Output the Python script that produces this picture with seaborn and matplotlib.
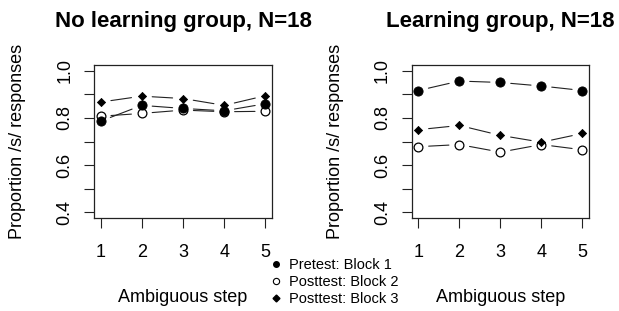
import matplotlib
matplotlib.use("Agg")
import matplotlib.pyplot as plt
from matplotlib.lines import Line2D
import seaborn as sns
import pandas as pd

# ---- data ----
steps = [1, 2, 3, 4, 5]
series_names = ["Pretest: Block 1", "Posttest: Block 2", "Posttest: Block 3"]
titles = ["No learning group, N=18", "Learning group, N=18"]

nolearn_pre = [0.786, 0.853, 0.840, 0.830, 0.860]
nolearn_post2 = [0.807, 0.819, 0.833, 0.826, 0.828]
nolearn_post3 = [0.867, 0.892, 0.882, 0.853, 0.894]

learn_pre = [0.916, 0.956, 0.950, 0.935, 0.916]
learn_post2 = [0.678, 0.687, 0.655, 0.687, 0.665]
learn_post3 = [0.750, 0.768, 0.726, 0.697, 0.734]

yticks = [0.4, 0.5, 0.6, 0.7, 0.8, 0.9, 1.0]
ytick_labels = ["0.4", "", "0.6", "", "0.8", "", "1.0"]
xlabel = "Ambiguous step"
ylabel = "Proportion /s/ responses"

panels = [
    {"Pretest: Block 1": nolearn_pre, "Posttest: Block 2": nolearn_post2, "Posttest: Block 3": nolearn_post3},
    {"Pretest: Block 1": learn_pre, "Posttest: Block 2": learn_post2, "Posttest: Block 3": learn_post3},
]

sns.set_style("ticks")
plt.rcParams["font.family"] = ["Liberation Sans", "DejaVu Sans"]
plt.rcParams["text.color"] = "black"
plt.rcParams["axes.labelcolor"] = "black"
plt.rcParams["xtick.color"] = "black"
plt.rcParams["ytick.color"] = "black"

styles = {
    "Pretest: Block 1": dict(marker="o", s=44, color="black", edgecolor="black", linewidth=0.6),
    "Posttest: Block 2": dict(marker="o", s=40, color="white", edgecolor="black", linewidth=0.9),
    "Posttest: Block 3": dict(marker="D", s=17, color="black", edgecolor="black", linewidth=0.6),
}
draw_order = ["Posttest: Block 2", "Posttest: Block 3", "Pretest: Block 1"]

fig = plt.figure(figsize=(6.19, 3.11), dpi=100)
axes_rects = [
    [94 / 619, 1 - 218 / 311, (272 - 94) / 619, (218 - 65) / 311],
    [411.7 / 619, 1 - 218 / 311, (589 - 411.7) / 619, (218 - 65) / 311],
]

for rect, title, pdata in zip(axes_rects, titles, panels):
    ax = fig.add_axes(rect)
    df = pd.concat(
        [pd.DataFrame({"step": steps, "prop": pdata[n], "series": n}) for n in series_names],
        ignore_index=True,
    )
    # connecting lines with gaps around the points (R type="b")
    for n in series_names:
        sub = df[df["series"] == n].reset_index(drop=True)
        for i in range(len(sub) - 1):
            ax.annotate(
                "",
                xy=(sub["step"][i + 1], sub["prop"][i + 1]),
                xytext=(sub["step"][i], sub["prop"][i]),
                xycoords="data", textcoords="data",
                arrowprops=dict(arrowstyle="-", shrinkA=7.5, shrinkB=7.5,
                                color="#222222", lw=0.8),
            )
    for n in draw_order:
        sub = df[df["series"] == n]
        sns.scatterplot(data=sub, x="step", y="prop", ax=ax, legend=False,
                        zorder=3, **styles[n])

    ax.set_xlim(0.84, 5.16)
    ax.set_ylim(0.376, 1.024)
    ax.set_xticks(steps)
    ax.set_xticklabels([str(s) for s in steps])
    ax.set_yticks(yticks)
    ax.set_yticklabels(ytick_labels, rotation=90, va="center")
    ax.tick_params(axis="both", direction="out", length=7, width=0.8,
                   color="#222222", labelsize=13, labelcolor="black")
    ax.tick_params(axis="x", pad=12)
    ax.tick_params(axis="y", pad=8)
    for sp in ax.spines.values():
        sp.set_visible(True)
        sp.set_color("#222222")
        sp.set_linewidth(0.9)
    ax.set_xlabel(xlabel, fontsize=13, va="center", color="black")
    ax.xaxis.set_label_coords(0.5, -80 / 153)
    ax.set_ylabel(ylabel, fontsize=13, va="center", color="black")
    ax.yaxis.set_label_coords(-76 / 178, 0.5)
    ax.set_title(title, fontsize=16, fontweight="bold", pad=27, color="black")

handles = [
    Line2D([], [], linestyle="none", marker="o", markersize=4, color="black", markeredgecolor="black"),
    Line2D([], [], linestyle="none", marker="o", markersize=4.5, markerfacecolor="white", markeredgecolor="black", markeredgewidth=0.8),
    Line2D([], [], linestyle="none", marker="D", markersize=3.5, color="black", markeredgecolor="black"),
]
fig.legend(handles, series_names, loc="upper left", bbox_to_anchor=(270 / 619, 1 - 258 / 311),
           frameon=False, fontsize=10.5, handlelength=0.8, handletextpad=0.5,
           labelspacing=0.2, borderpad=0, borderaxespad=0)

fig.savefig("out.png", dpi=100)
